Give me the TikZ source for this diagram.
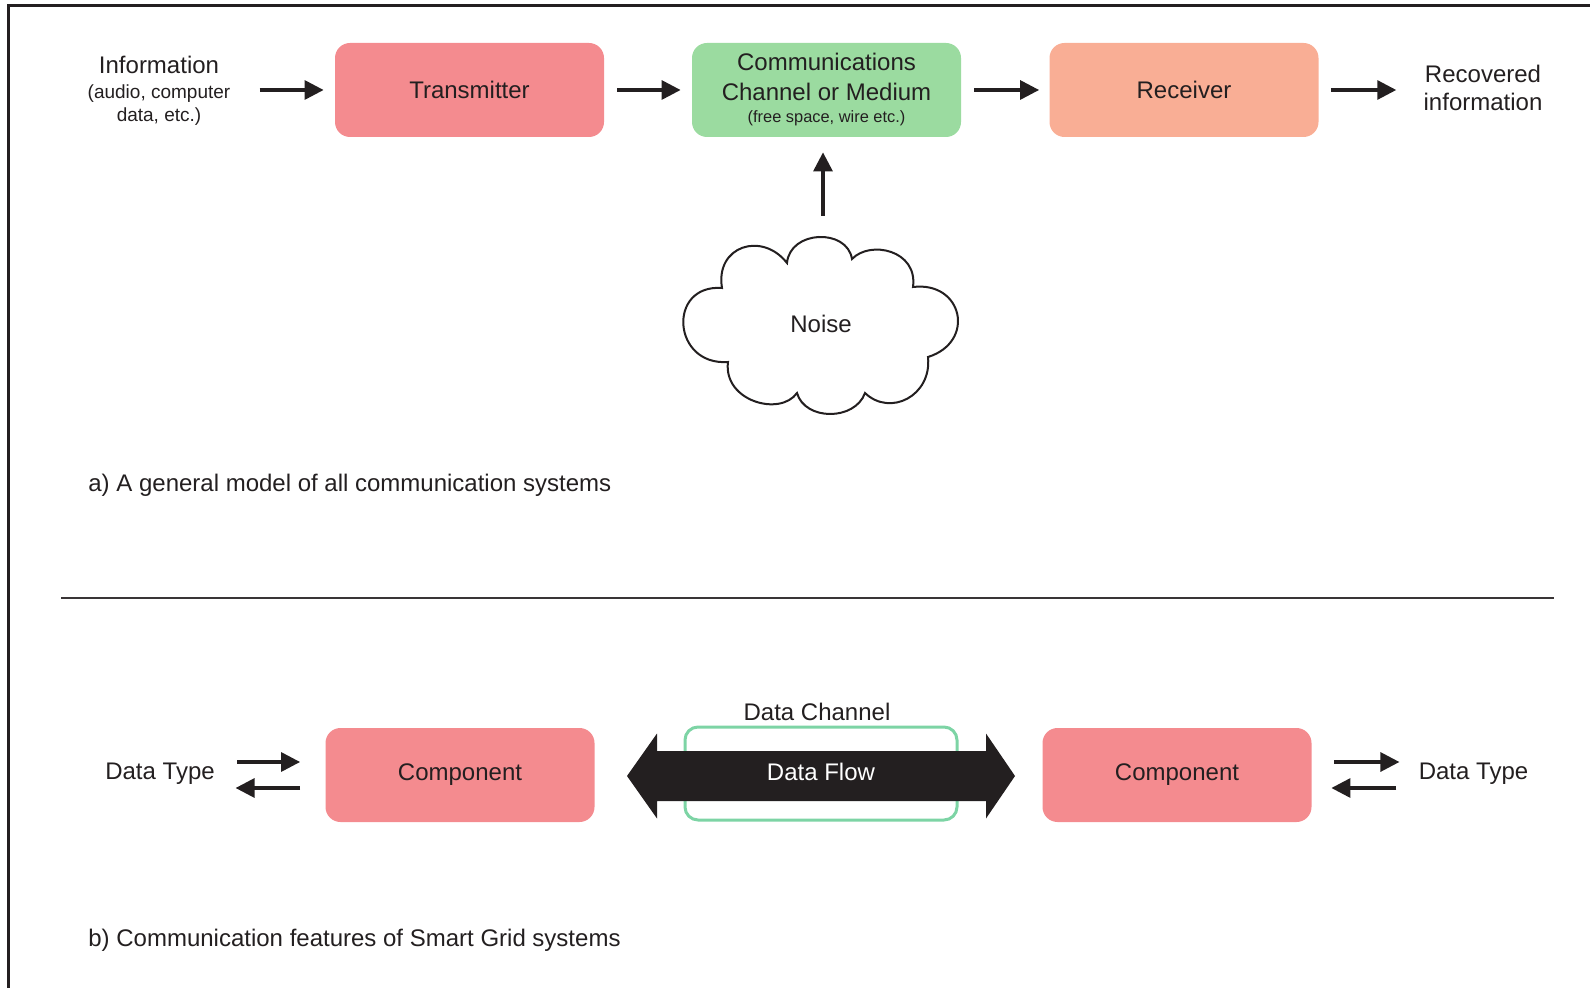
\documentclass[tikz,border=0pt]{standalone}
\usepackage{fontspec}
\setmainfont{Liberation Sans}
\usetikzlibrary{arrows.meta,calc}
\definecolor{ink}{HTML}{231F20}
\definecolor{txpink}{RGB}{244,139,143}
\definecolor{chgreen}{RGB}{155,219,160}
\definecolor{rxsalmon}{RGB}{249,174,149}
\definecolor{linegreen}{RGB}{125,212,165}
\begin{document}
\begin{tikzpicture}[x=0.5pt,y=-0.5pt,
  every node/.style={text=ink, inner sep=0pt, font=\fontsize{12}{14.5}\selectfont},
  block/.style={rounded corners=7.5pt, minimum width=134.5pt, minimum height=47pt, align=center},
  arr/.style={draw=ink, line width=1.6pt, -{Triangle[length=9.5pt,width=9.5pt]}},
  smalltxt/.style={font=\fontsize{9.5}{11.5}\selectfont}]
\useasboundingbox (0,0) rectangle (1590,988);

% frame
\draw[ink, line width=1.5pt] (1590,6) -- (8,6) -- (8,988);

% ---- a) general communication model ----
\node[smalltxt, align=center] (info) at (159,91)
  {{\fontsize{12}{14.5}\selectfont Information}\\[1pt]{(audio, computer}\\{data, etc.)}};
\node[block, fill=txpink] (tx) at (469.5,90) {Transmitter};
\node[block, fill=chgreen] (ch) at (826.5,90)
  {{Communications}\\[0.5pt]{Channel or Medium}\\[-3.5pt]{\fontsize{8.2}{10}\selectfont (free space, wire etc.)}};
\node[block, fill=rxsalmon] (rx) at (1184,90) {Receiver};
\node[align=center] (rec) at (1483,88) {{Recovered}\\[-0.5pt]{information}};

\draw[arr, shorten <=14.5pt, shorten >=5.5pt] (info.east |- tx.west) -- (tx.west);
\draw[arr, shorten <=6.5pt, shorten >=5.5pt] (tx.east) -- (ch.west);
\draw[arr, shorten <=6.5pt, shorten >=5pt] (ch.east) -- (rx.west);
\draw[arr, shorten <=6pt, shorten >=13.5pt] (rx.east) -- (rx.east -| rec.west);

% noise cloud
\draw[ink, line width=1pt, fill=white]
  (722,288) .. controls (715,246) and (762,231) .. (787,263)
            .. controls (790,230) and (847,228) .. (852,259)
            .. controls (870,240) and (918,250) .. (913,287)
            .. controls (963,281) and (976,342) .. (928,357)
            .. controls (932,396) and (890,417) .. (865,393)
            .. controls (855,421) and (805,421) .. (797,393)
            .. controls (780,417) and (723,401) .. (728,362)
            .. controls (672,366) and (667,284) .. (722,288) -- cycle;
\node (noise) at (821,324) {Noise};
\coordinate (nz) at (823,216);
\draw[arr, shorten >=7.5pt] (nz) -- (nz |- ch.south);

\node[anchor=west] (capa) at (88,485) {a) A general model of all communication systems};

% separator
\draw[ink!90, line width=1pt] (61,598) -- (1554,598);

% ---- b) smart grid communication ----
\node (dtl) at (160,774) {Data Type};
\node[block, fill=txpink] (cl) at (460,775) {Component};
\node[block, fill=txpink] (cr) at (1177,775) {Component};
\node (dtr) at (1473.5,774) {Data Type};

\draw[arr] ($(dtl.east)+(22,-12)$) -- ($(cl.west)+(-25,-13)$);
\draw[arr] ($(cl.west)+(-25,13)$) -- ($(dtl.east)+(20.5,14)$);
\draw[arr] ($(cr.east)+(22.5,-13)$) -- ($(dtr.west)+(-19,-12)$);
\draw[arr] ($(dtr.west)+(-22,14)$) -- ($(cr.east)+(19.5,13)$);

% data channel with two-way data flow
\node[draw=linegreen, line width=1.5pt, rounded corners=6.5pt,
      minimum width=136pt, minimum height=46.5pt] (dch) at (821,773.5) {};
\node (dchl) at (817,712) {Data Channel};
\fill[ink] (627,776) -- (657,733.5) -- (657,751) -- (986,751) -- (986,733.5)
  -- (1015,776) -- (986,818.5) -- (986,801) -- (657,801) -- (657,818.5) -- cycle;
\node[text=white] (flow) at (821,772) {Data Flow};

\node[anchor=west] (capb) at (88,940) {b) Communication features of Smart Grid systems};
\end{tikzpicture}
\end{document}
